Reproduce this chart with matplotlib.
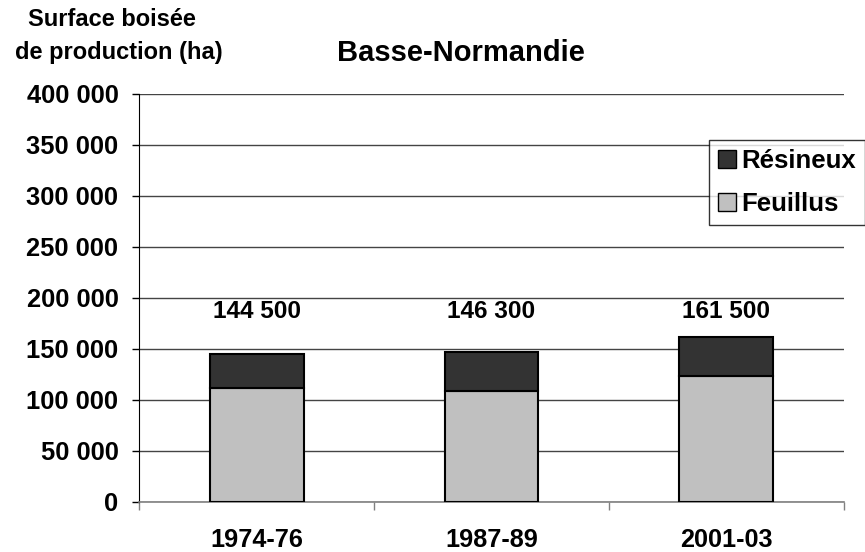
import numpy as np
import matplotlib
matplotlib.use("Agg")
import matplotlib.pyplot as plt
from matplotlib.patches import Patch

plt.rcParams['font.family'] = ['Liberation Sans', 'DejaVu Sans']
plt.rcParams['font.weight'] = 'bold'

periods = ["1974-76", "1987-89", "2001-03"]
feuillus = [111500, 108000, 123000]
resineux = [33000, 38300, 38500]
totals = ["144 500", "146 300", "161 500"]
yticks = [0, 50000, 100000, 150000, 200000, 250000, 300000, 350000, 400000]

fig = plt.figure(figsize=(8.65, 5.52), dpi=100)
ax = fig.add_axes([0.161, 0.0911, 0.8144, 0.7395])

x = np.arange(len(periods))
w = 0.40
ax.bar(x, feuillus, w, color="#c0c0c0", edgecolor="black", linewidth=1.5, zorder=3, label="Feuillus")
ax.bar(x, resineux, w, bottom=feuillus, color="#333333", edgecolor="black", linewidth=1.5, zorder=3, label="Résineux")

for i, t in enumerate(totals):
    ax.text(x[i], 186000, t, ha="center", va="center", fontsize=17.6, fontweight="bold")

ax.set_xlim(-0.5, 2.5)
ax.set_ylim(0, 400000)
ax.set_yticks(yticks)
ax.set_yticklabels([f"{v:,}".replace(",", " ") for v in yticks])
ax.yaxis.grid(True, color="#444444", linewidth=1, zorder=0)

ax.set_xticks(x)
ax.set_xticklabels(periods)
ax.set_xticks([-0.5, 0.5, 1.5, 2.5], minor=True)
ax.tick_params(axis="x", which="major", length=0, pad=19, labelsize=18.2)
ax.tick_params(axis="x", which="minor", length=6, width=1, color="#808080", direction="out")
ax.tick_params(axis="y", length=5, width=1, pad=10, labelsize=18.4, direction="out")

ax.spines["top"].set_visible(False)
ax.spines["right"].set_visible(False)
ax.spines["left"].set_color("black")
ax.spines["bottom"].set_color("#808080")
ax.spines["bottom"].set_linewidth(1.2)

fig.text(461 / 865, 1 - 53 / 552, "Basse-Normandie", ha="center", va="center", fontsize=21, fontweight="bold")
fig.text(112 / 865, 1 - 20 / 552, "Surface boisée", ha="center", va="center", fontsize=17, fontweight="bold")
fig.text(119 / 865, 1 - 53 / 552, "de production (ha)", ha="center", va="center", fontsize=17, fontweight="bold")

handles = [Patch(facecolor="#333333", edgecolor="black"), Patch(facecolor="#c0c0c0", edgecolor="black")]
leg = fig.legend(handles, ["Résineux", "Feuillus"], loc="upper left",
                 bbox_to_anchor=(709 / 865, 1 - 140 / 552), frameon=True, fancybox=False,
                 edgecolor="black", fontsize=18.5, handlelength=0.7, handleheight=0.7,
                 handletextpad=0.2, borderaxespad=0, borderpad=0.35, labelspacing=0.75)
leg.get_frame().set_linewidth(1)

fig.savefig("out.png", dpi=100)
